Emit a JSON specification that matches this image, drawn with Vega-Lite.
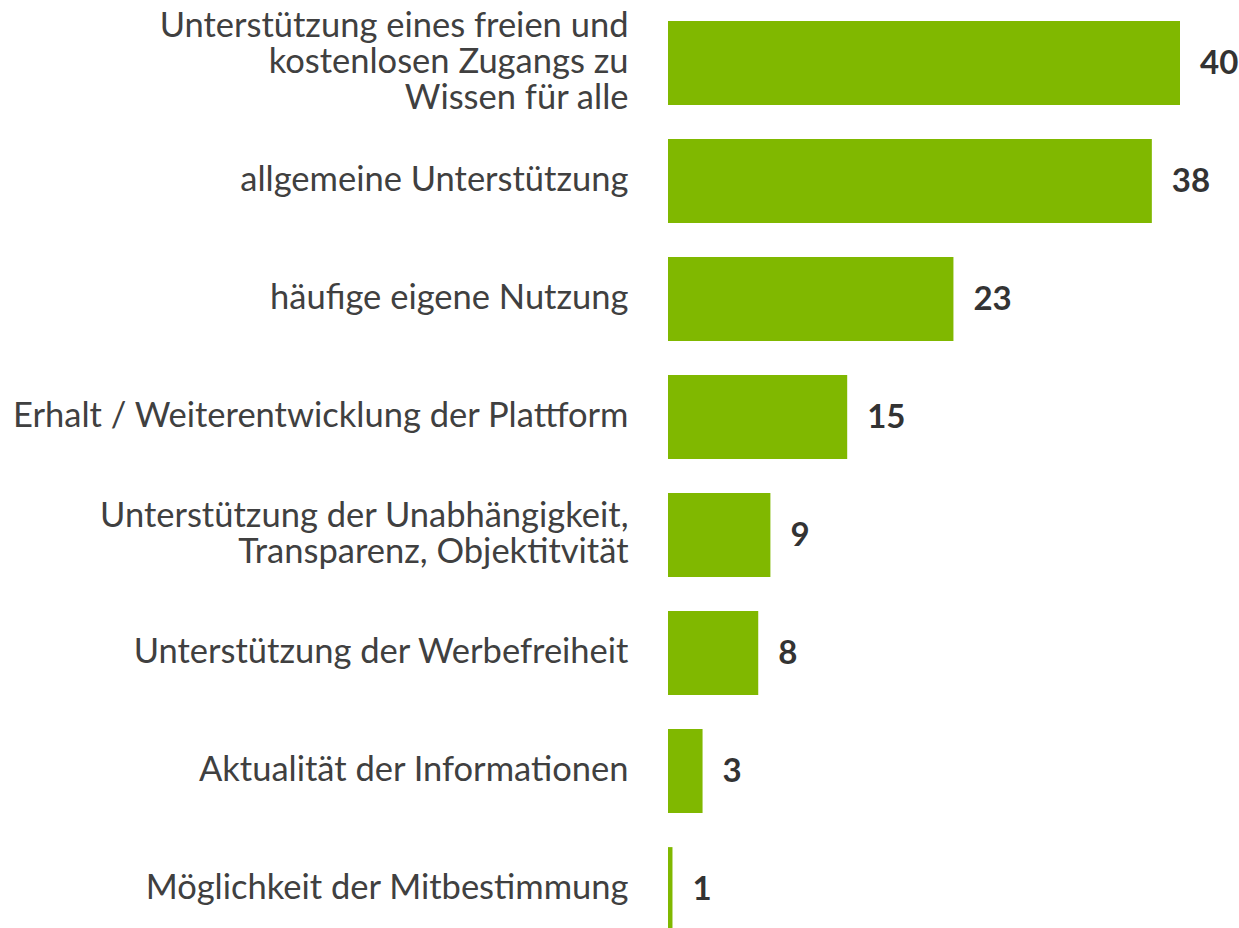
{
  "$schema": "https://vega.github.io/schema/vega-lite/v6.json",
  "autosize": {"type": "none"},
  "width": 512,
  "height": 944,
  "padding": {"left": 668, "top": 4, "right": 59, "bottom": 0},
  "background": "white",
  "config": {"view": {"stroke": null}, "font": "Lato"},
  "data": {
    "values": [
      {"grund": "Unterstützung eines freien und|kostenlosen Zugangs zu|Wissen für alle", "wert": 40.0, "label": 40},
      {"grund": "allgemeine Unterstützung", "wert": 37.8, "label": 38},
      {"grund": "häufige eigene Nutzung", "wert": 22.3, "label": 23},
      {"grund": "Erhalt / Weiterentwicklung der Plattform", "wert": 14.0, "label": 15},
      {"grund": "Unterstützung der Unabhängigkeit,|Transparenz, Objektitvität", "wert": 8.0, "label": 9},
      {"grund": "Unterstützung der Werbefreiheit", "wert": 7.05, "label": 8},
      {"grund": "Aktualität der Informationen", "wert": 2.7, "label": 3},
      {"grund": "Möglichkeit der Mitbestimmung", "wert": 0.35, "label": 1}
    ]
  },
  "encoding": {
    "y": {
      "field": "grund",
      "type": "nominal",
      "sort": null,
      "scale": {"paddingInner": 0.29, "paddingOuter": 0.145},
      "axis": {
        "title": null,
        "domain": false,
        "ticks": false,
        "labelPadding": 40,
        "labelFontSize": 34.5,
        "labelColor": "#404040",
        "labelFont": "Lato",
        "labelLimit": 700,
        "labelLineHeight": 36,
        "labelOffset": {
          "condition": [
            {"test": "length(split(datum.label, '|')) == 3", "value": -36},
            {"test": "length(split(datum.label, '|')) == 2", "value": -18}
          ],
          "value": 0
        },
        "labelExpr": "split(datum.label, '|')"
      }
    },
    "x": {
      "field": "wert",
      "type": "quantitative",
      "scale": {"domain": [0, 40], "nice": false},
      "axis": null
    }
  },
  "layer": [
    {"mark": {"type": "bar", "color": "#80B800"}},
    {
      "mark": {"type": "text", "align": "left", "baseline": "middle", "dx": 20, "dy": 1, "fontSize": 33, "fontWeight": "bold", "color": "#333333", "font": "Lato"},
      "encoding": {"text": {"field": "label", "type": "quantitative"}}
    }
  ]
}
